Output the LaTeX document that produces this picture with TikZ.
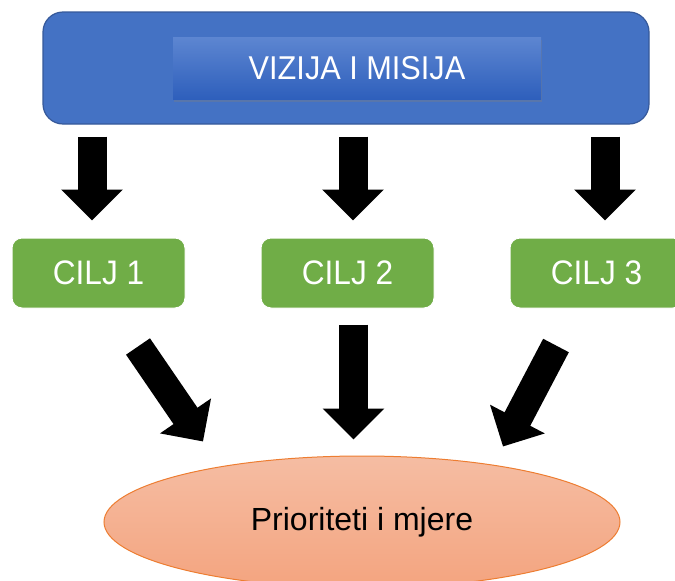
\documentclass[tikz,border=0pt]{standalone}
\usepackage{fontspec}
\setmainfont{Liberation Sans}
\newfontfamily\boxfont[FakeStretch=0.93]{Liberation Sans}
\usepackage{tikz}
\usetikzlibrary{arrows.meta,shapes.geometric,shadows}

\definecolor{frameblue}{HTML}{4472C4}
\definecolor{frameedge}{HTML}{36599A}
\definecolor{visiontop}{HTML}{5D86D1}
\definecolor{visionbottom}{HTML}{2E5FBC}
\definecolor{goalgreen}{HTML}{70AD47}
\definecolor{priotop}{HTML}{F5BDA3}
\definecolor{priobottom}{HTML}{F4A47F}
\definecolor{prioedge}{HTML}{ED7D31}

\begin{document}
\begin{tikzpicture}[x=1pt,y=1pt]
\tikzstyle{goal}=[rectangle,rounded corners=10pt,fill=goalgreen,draw=white,line width=1pt,minimum width=173pt,minimum height=70pt,inner sep=0pt,text=white,font=\boxfont\fontsize{34}{40}\selectfont]
\tikzstyle{bigarrow}=[line width=29pt,-{Triangle[length=31pt,width=60pt]}]

\useasboundingbox (0,0) rectangle (675,-581);

\node[rectangle,rounded corners=20pt,fill=frameblue,draw=frameedge,line width=1.2pt,minimum width=606pt,minimum height=112pt] (frame) at (346,-68) {};
\node[rectangle,top color=visiontop,bottom color=visionbottom,minimum width=368pt,minimum height=62pt,inner sep=0pt,text=white,font=\boxfont\fontsize{33}{40}\selectfont,drop shadow={shadow xshift=1pt,shadow yshift=-3pt,opacity=0.35}] (vision) at (357,-68) {VIZIJA I MISIJA};

\node[goal] (c1) at (98.5,-273) {CILJ 1};
\node[goal] (c2) [right of=c1, node distance=249pt] {CILJ 2};
\node[goal] (c3) [right of=c2, node distance=249pt] {CILJ 3};

\node[ellipse,top color=priotop,bottom color=priobottom,draw=prioedge,line width=1pt,minimum width=516pt,minimum height=132pt,inner sep=0pt,font=\fontsize{32}{38}\selectfont] (prio) at (362,-522) {Prioriteti i mjere};

\draw[bigarrow] ([xshift=-6.5pt,yshift=-12pt]frame.south -| c1.north) -- ([xshift=-6.5pt,yshift=17pt]c1.north);
\draw[bigarrow] ([xshift=5.5pt,yshift=-12pt]frame.south -| c2.north) -- ([xshift=5.5pt,yshift=17pt]c2.north);
\draw[bigarrow] ([xshift=8.5pt,yshift=-12pt]frame.south -| c3.north) -- ([xshift=8.5pt,yshift=17pt]c3.north);

\draw[bigarrow] ([xshift=39.5pt,yshift=-38pt]c1.south) -- ([xshift=-159pt,yshift=14pt]prio.north);
\draw[bigarrow] ([xshift=6pt,yshift=-16pt]c2.south) -- ([xshift=-8.5pt,yshift=16pt]prio.north);
\draw[bigarrow] ([xshift=-40.5pt,yshift=-37pt]c3.south) -- ([xshift=141pt,yshift=9pt]prio.north);

\end{tikzpicture}
\end{document}
